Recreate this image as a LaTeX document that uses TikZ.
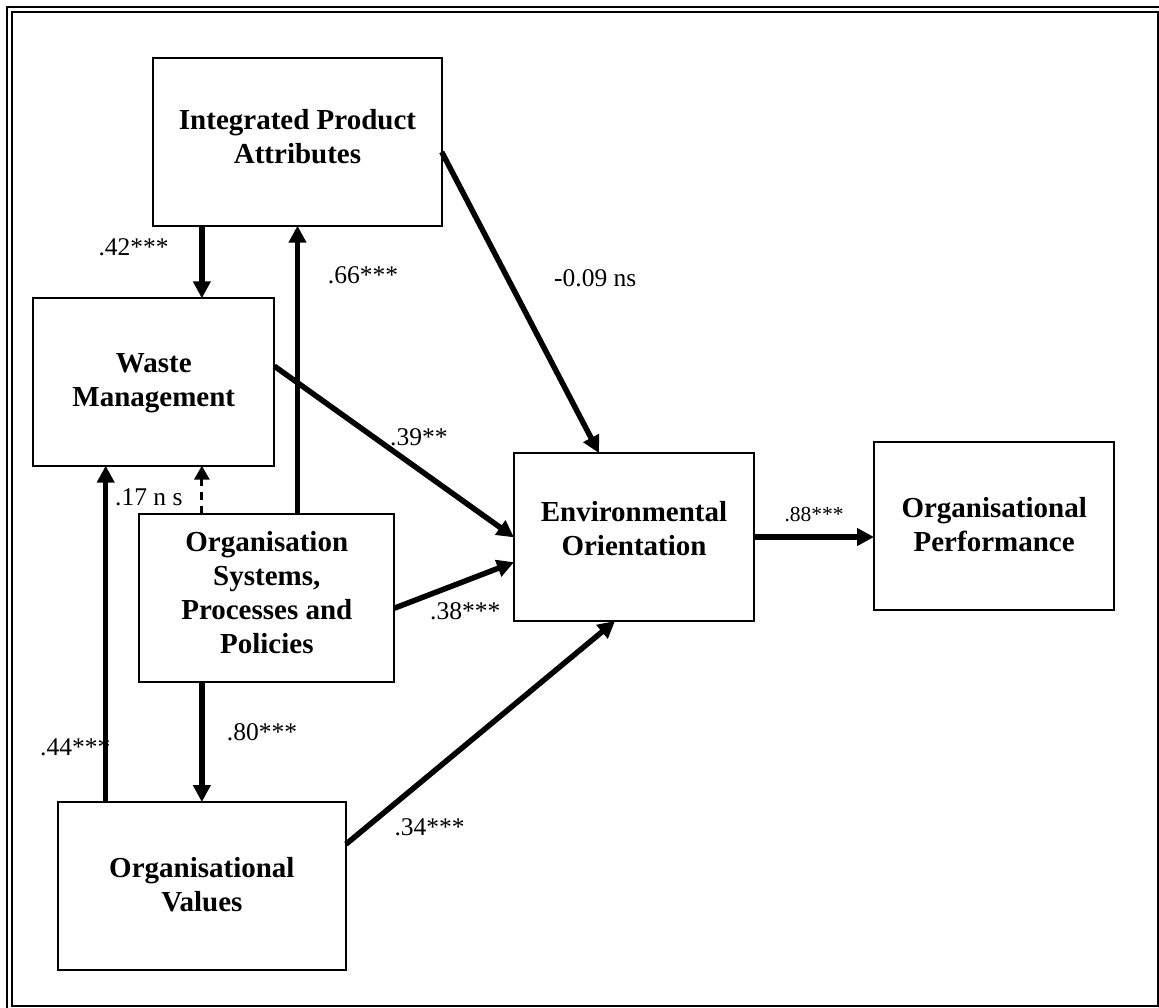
\documentclass[tikz,border=0pt]{standalone}
\usepackage{fontspec}
\setmainfont{Liberation Serif}
\usetikzlibrary{arrows.meta,calc}

\tikzset{
  box/.style={draw, line width=2pt, rectangle, inner sep=0pt, outer sep=0pt},
  % multi-line names are anchored at the baseline of their last line
  boxtext/.style={font=\fontsize{29}{34}\selectfont\bfseries, anchor=base, inner sep=0pt, align=center},
  coef/.style={font=\fontsize{25.5}{29}\selectfont, anchor=base west, inner sep=0pt},
  coefsmall/.style={font=\fontsize{21.5}{24}\selectfont, anchor=base west, inner sep=0pt},
  path/.style={line width=5.5pt, -{Triangle[length=17pt,width=17pt]}},
  weakpath/.style={line width=3.2pt, dash pattern=on 8pt off 6pt, -{Triangle[length=14pt,width=15pt]}}
}

\begin{document}
\begin{tikzpicture}[x=1pt, y=-1pt]
  \useasboundingbox (0,0) rectangle (1159,1007);

  % double frame
  \draw[line width=2pt] (7,1010) -- (7,7) -- (1162,7);
  \draw[line width=1.5pt] (12,12) rectangle (1158,1006);

  % construct boxes
  \node[box, minimum width=288.4pt, minimum height=167.7pt] (ipa) at (297.5,141.85) {};
  \node[box, minimum width=241pt,   minimum height=167.4pt] (wm)  at (153.8,382) {};
  \node[box, minimum width=255pt,   minimum height=167.7pt] (osp) at (266.8,598.15) {};
  \node[box, minimum width=240pt,   minimum height=168pt]   (eo)  at (634,537) {};
  \node[box, minimum width=240.3pt, minimum height=167.7pt] (op)  at (994.15,526.15) {};
  \node[box, minimum width=288.3pt, minimum height=168pt]   (ov)  at (201.85,886) {};

  % construct names
  \node[boxtext] (ipat) at (297.5,163.5) {Integrated Product\\Attributes};
  \node[boxtext] (wmt)  at (153.8,406.7) {Waste\\Management};
  \node[boxtext] (ospt) at (266.8,653) {Organisation\\Systems,\\Processes and\\Policies};
  \node[boxtext] (eot)  at (634,555) {Environmental\\Orientation};
  \node[boxtext] (opt)  at (994.15,551.7) {Organisational\\Performance};
  \node[boxtext] (ovt)  at (201.85,911) {Organisational\\Values};

  % vertical paths
  \coordinate (ovl) at ($(ov.north west)!0.1665!(ov.north east)$);
  \draw[path] (ipa.south -| ov.north) -- (wm.north -| ov.north);
  \draw[path] (osp.north -| ipa.south) -- (ipa.south);
  \draw[weakpath] (osp.north -| ov.north) -- (wm.south -| ov.north);
  \draw[path] (ovl) -- (wm.south -| ovl);
  \draw[path] (osp.south -| ov.north) -- (ov.north);

  % paths into environmental orientation
  \draw[path] ($(ipa.north east)!0.56!(ipa.south east)$) -- ($(eo.north west)!0.354!(eo.north east)$);
  \draw[path] ($(wm.north east)!0.405!(wm.south east)$) -- ($(eo.north west)!0.502!(eo.south west)$);
  \draw[path] ($(osp.north east)!0.56!(osp.south east)$) -- ($(eo.north west)!0.65!(eo.south west)$);
  \draw[path] ($(ov.north east)!0.251!(ov.south east)$) -- ($(eo.south west)!0.421!(eo.south east)$);
  \draw[path] (eo.east) -- (eo.east -| op.west);

  % path coefficients
  \node[coef] (c42) at (98.3,255) {.42***};
  \node[coef] (c66) at (327.7,283.3) {.66***};
  \node[coef] (c09) at (554,286.7) {-0.09 ns};
  \node[coef] (c39) at (390,445) {.39**};
  \node[coef] (c17) at (115,505) {.17 n s};
  \node[coef] (c38) at (430,619) {.38***};
  \node[coef] (c80) at (226.7,740) {.80***};
  \node[coef] (c44) at (40,755) {.44***};
  \node[coef] (c34) at (394.3,835) {.34***};
  \node[coefsmall] (c88) at (784.3,521.7) {.88***};
\end{tikzpicture}
\end{document}
